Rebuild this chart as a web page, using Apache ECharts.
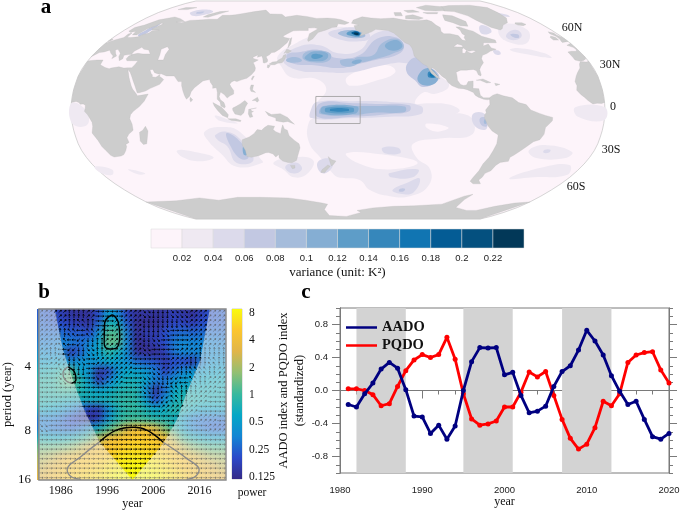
<!DOCTYPE html>
<html><head><meta charset="utf-8">
<style>
html,body{margin:0;padding:0;background:#fff;width:685px;height:516px;overflow:hidden}
#heatClip{position:absolute;left:37px;top:309px;width:189px;height:171px;overflow:hidden}
#heat{position:absolute;left:-9.45px;top:-9.5px;width:207.9px;height:190px;filter:blur(3.5px)}
#main{position:absolute;left:0;top:0;width:685px;height:516px}
</style>
<script src="https://cdn.jsdelivr.net/npm/echarts@6/dist/echarts.min.js"></script>
</head><body>
<div id="heatClip"><div id="heat"></div></div>
<div id="main"></div>
<script>
// ---------- panel c ----------
const years = [1981,1982,1983,1984,1985,1986,1987,1988,1989,1990,1991,1992,1993,1994,1995,1996,1997,1998,1999,2000,2001,2002,2003,2004,2005,2006,2007,2008,2009,2010,2011,2012,2013,2014,2015,2016,2017,2018,2019,2020];
const aado = [-.17,-.2,-.04,.09,.26,.34,.27,.01,-.31,-.32,-.52,-.42,-.59,-.43,0,.35,.52,.515,.52,.19,.22,-.06,-.27,-.25,-.19,.05,.23,.3,.49,.73,.6,.43,.18,-.01,-.17,-.13,-.35,-.56,-.59,-.52];
const pqdo = [.02,.02,0,-.05,-.185,-.16,.05,.24,.37,.435,.4,.435,.645,.38,-.04,-.345,-.42,-.405,-.37,-.2,-.2,-.02,.225,.165,.23,-.06,-.35,-.58,-.71,-.65,-.45,-.13,-.185,-.04,.34,.43,.46,.47,.25,.09];
const bands = [[1982,1988],[1995,2001],[2007,2013]];
const indexTicks = [-.8,-.4,0,.4,.8];

// ---------- panel b ----------
const heatRows = [
[-2,-2.1,-2.5,-2.7,-2.8,-2.8,-2.2,-1,-1.5,-2.4,-2.8,-2.7,-2.8,-2.7,-2.5,-2.7,-2.8,-2.4,-2.1,-2],
[-1.9,-2,-2.2,-2.4,-2.6,-2.7,-1.9,-.4,-.6,-2,-2.9,-2.9,-2.9,-2.6,-2.3,-2.4,-2.5,-2.2,-2,-2],
[-1.8,-1.8,-1.8,-2,-2,-2.2,-1.3,.2,.2,-1.6,-2.9,-2.5,-2.6,-2.2,-1.9,-1.8,-1.9,-1.8,-1.8,-1.8],
[-1.6,-1.6,-1.5,-1.6,-1.8,-1.5,-.9,.4,.3,-1.5,-2.9,-2.8,-2.5,-2.2,-1.6,-1.4,-1.5,-1.5,-1.5,-1.6],
[-1.3,-1.4,-1.3,-2.6,-2,-1.2,-.9,-.2,-.6,-1.4,-2.8,-2.9,-2.9,-2.5,-1.7,-1.4,-1.5,-1.4,-1.4,-1.4],
[-1,-1,-.9,-1.5,-1.2,-1.2,-1.1,-.8,-1,-1.3,-1.8,-2,-2.1,-2.6,-2.2,-2.3,-2.6,-1.6,-1.2,-1.2],
[-.5,-.4,-.2,.3,-.9,-1.2,-2.7,-2.4,-1.2,-.8,-.9,-1.1,-1.6,-2.4,-1.8,-1.4,-1.2,-1,-.9,-.9],
[-.2,-.2,.1,.6,-.3,-1,-2.6,-1.6,-.8,-.5,-.5,-.9,-1.6,-1.7,-1.2,-1,-.9,-.7,-.6,-.6],
[-.2,-.2,0,0,-.3,-.6,-.9,-.7,-.4,-.3,-.3,-1.3,-2.8,-1.8,-.7,-.5,-.5,-.5,-.5,-.5],
[-.3,-.3,-.4,-.5,-.5,-.5,-.5,-.4,-.2,-.1,-.2,-1,-2.2,-1.3,-.5,-.3,-.3,-.4,-.5,-.5],
[-.6,-.8,-1,-1.4,-1.8,-2.4,-2.6,-1.4,-.4,-.1,-.1,-.4,-.8,-.6,-.2,-.3,-.6,-.8,-.8,-.8],
[-1.6,-1.6,-1.8,-2.2,-2.6,-2.9,-2.5,-1.2,-.3,0,0,-.1,-.3,-.4,-.5,-1,-1.6,-1.8,-1.8,-1.8],
[-1.6,-1.8,-1.9,-2,-1.8,-1.3,-.6,.1,.7,1.4,1.9,1.9,1.4,.6,-.2,-1,-1.6,-1.8,-2,-2],
[-.6,-.7,-.7,-.6,-.3,.2,1,1.7,2,2.2,2.3,2.3,2.1,1.9,1,0,-.5,-.8,-1,-1],
[.4,.4,.5,.7,1.1,1.5,1.9,2.2,2.3,2.4,2.5,2.4,2.4,2.2,1.8,1.2,.7,.4,.2,.2],
[1,1.2,1.5,1.8,2,2.1,2.2,2.3,2.6,2.7,2.7,2.7,2.6,2.4,2.2,2,1.7,1.3,1,.9],
[1.3,1.6,1.9,2.1,2.2,2.3,2.4,2.6,2.8,2.9,3,2.9,2.8,2.6,2.4,2.2,2,1.8,1.5,1.2],
[1.6,1.9,2.1,2.3,2.4,2.5,2.6,2.8,3,3,3,3,3,2.8,2.6,2.4,2.2,2,1.8,1.6]];
// arrow direction, 0=E 1=NE 2=N 3=NW 4=W 5=SW 6=S 7=SE
const phaseRows = [
"11122100011766771111","11123200111666671111","11234310111667001111","11345621111670001111",
"12456721111700011222","01567011110000112232","00766001110071123321","00700071100776543211",
"00000000000764322110","00000000000055321100","00000000000001111000","00000000000000000110",
"70000000000000000011","00000000000000000000","00000000000000000000","00000000000000000000",
"00000000000000000000","00000000000000000000"];
const coiLeft = [[1984.7,1.09],[1986.5,1.73],[1988.6,2.2],[1991.1,2.68],[1994.4,3.18],[2001.5,3.78]];
const coiRight = [[2018.2,1.09],[2016.1,1.9],[2013.2,2.41],[2011.1,2.83],[2008.2,3.2],[2001.5,3.78]];
const sigBlack = [
 [[1997.2,1.18],[1998.4,1.29],[1998.75,1.5],[1997.9,1.71],[1996.5,1.72],[1995.4,1.63],[1995.5,1.31],[1997.2,1.18]],
 [[1987.6,2],[1989.1,2.1],[1989.3,2.2],[1988.3,2.26]],
 [[1994.4,3.18],[1997.9,3],[2001.8,2.95],[2004.7,3],[2008.2,3.19]]];
const sigGray = [
 [[1987.6,2],[1986.5,2.1],[1986.9,2.2],[1988.3,2.26]],
 [[1994.4,3.18],[1990.4,3.41],[1987.4,3.62],[1988.3,3.73],[1990.4,3.77]],
 [[2008.2,3.19],[2013.2,3.44],[2015.9,3.62],[2015,3.73],[2013.2,3.77]]];
const bYearTicks = [1986,1996,2006,2016];
const bPeriodTicks = {2:'4',3:'8',3.78:'16'};
const powerTicks = [-3,-2,-1,0,1,2,3];
const powerLabels = ['0.125','0.25','0.5','1','2','4','8'];
const parula = ['#352a87','#2b48c9','#1485d4','#06a7c6','#38b99e','#92bf73','#e0b54a','#fcc62e','#f9fb0e'];

// ---------- panel a ----------
const varianceLevels = [0,.02,.04,.06,.08,.1,.12,.14,.16,.18,.2,.22,.24];
const variancePalette = ['#fdf4fa','#efe9f2','#dcdaeb','#c2c8e2','#a5bcdb','#85aed3','#5e9dc8','#3687bb','#1175b2','#045c95','#04507f','#023858'];
const latLabels = [['60N',572,28],['30N',610,65],['0',613,107],['30S',611,150],['60S',576,187]];
const robLen = [1,.9986,.9954,.99,.9822,.973,.96,.9427,.9216,.8962,.8679,.835,.7986,.7597,.7186,.6732,.6213,.5722,.5322];
const robDy = [0,.062,.124,.186,.248,.31,.372,.434,.4958,.5571,.6176,.6769,.7346,.7903,.8435,.8936,.9394,.9761,1];

// lon 0..360, lat. land outlines
const land = [
// Africa + Eurasia (east of the map's cut meridian)
[[0,5.6],[3,6.3],[5,5.5],[6,4.3],[8,4.5],[9.5,3.5],[9.5,1],[9,-1],[11,-3.5],[12,-5.5],[13.5,-9],[13.5,-12],[12,-17],[14.5,-22.5],[15.5,-27],[17,-30],[18.3,-33.5],[20,-34.8],[25.5,-34],[28,-33],[31,-30],[32.8,-27],[32.8,-25.5],[35.5,-24],[35,-20.5],[37,-17.8],[40.5,-15],[40.5,-10.5],[39.3,-6.5],[40,-3.5],[42,-1],[46,2.5],[49,6.5],[51.2,11.8],[48,11.2],[44,10.5],[43.2,11.8],[40,15.5],[38.5,18],[37,21],[35.5,24],[33.8,27.5],[32.5,29.9],[34.8,28],[37,25],[39,21.5],[41,18],[43,14],[43.5,12.8],[45,12.8],[49,14],[52,16],[55,17.5],[57.8,19],[59.8,22.5],[58,23.8],[56.3,25],[56.3,26.3],[54,24.2],[51.5,24.5],[51,26],[50,26.8],[48,29.8],[50,30],[52,27.6],[55,26.6],[57,26.8],[61,25.2],[66.5,25.2],[67.5,24],[70,21],[72.5,21],[73,18],[74.5,14],[76,10.5],[77.5,8],[79.5,10.2],[80.2,13.5],[82,16.5],[85,19.5],[87,21.5],[89,22],[91.5,22.5],[92.3,20.5],[94.3,18],[94.5,16],[97,16.5],[98,13],[98.3,8],[100.3,6],[101,3],[103.5,1.4],[104,2.5],[103,5.5],[100.5,7.5],[99.5,10],[100.2,13.3],[101,12.7],[102.8,11.5],[105,8.8],[106.8,10.5],[109.2,11.8],[109,14.5],[107,17],[105.8,19],[106.8,20.8],[108.5,21.7],[110.5,21],[113.5,22.3],[117,23.5],[119.8,26],[121.8,29],[121.8,31],[120.5,33.5],[119.3,35],[122.5,37],[119,38],[118,39],[121.3,40.8],[121.3,39],[124.3,40],[125.5,38],[126.5,35],[127.5,34.7],[129.3,35.5],[129.3,37],[127.5,39.5],[129.8,41],[130.8,42.5],[133,42.8],[136,45],[140.5,50],[141.5,53.3],[137.5,54],[135.5,55],[138.5,57],[142.5,59.3],[148,59.5],[155,59.5],[154.5,61.5],[160,61.7],[163,61],[156.5,57],[156,52],[156.7,51],[160,53],[162,56],[163.5,58],[170,60],[175,62],[179,62.5],[180,65],[186,64.5],[190,66],[183,68.5],[178,69.5],[170,70],[160,69.7],[150,71.5],[140,72.5],[130,71],[125,73.5],[113,73.8],[105,77.5],[95,76],[85,74],[80,73],[75,72.5],[68,72.5],[68,69],[60,69],[55,68.5],[44,68],[40,66],[34,66.5],[41,67],[33,69.5],[25,71],[15,68.5],[10,64],[5,62],[5,59],[8,58],[11,59],[12.5,56],[16,56],[17,58.5],[17.5,61],[21,63],[22.5,65.5],[25,65],[21.5,61],[23,60],[29,60],[24,59.3],[24,57.5],[21,56.5],[19,54.5],[14,54],[11,54],[10,57.5],[8,56.8],[8.5,54],[4.5,52.5],[1.5,50.8],[0,49.5],[0,45],[0,39.5],[3,42.5],[6,43],[9,44.3],[12,42],[15.5,40],[16,38],[18,40],[15.5,42],[13,44.5],[14.5,45],[19,42],[20,39.5],[22.5,36.5],[24,38],[23,40.5],[26,41],[29,41],[27,40],[26.5,38],[28,36.5],[31,36.5],[36,36.5],[35.5,33.5],[34.5,31.3],[32,31.2],[29,31],[25,32],[20,31],[19,30.5],[15.5,31.5],[11,33.5],[10.5,37],[6,37],[1,36.5],[0,36],[0,25],[0,15]],
// West Africa, Iberia and France, British Isles, Iceland (west of the cut)
[[360,5.6],[358,4.8],[355,5],[352,4.5],[349,7],[346.8,9.5],[344.7,11.5],[342.5,14.7],[343.5,18],[343,21],[345,25],[347,27.5],[350.5,31],[352,34],[354,35.8],[358,35.5],[360,36],[360,25],[360,15]],
[[360,39.5],[359.7,38],[357,36.7],[354,36],[351,37],[351,39],[351,43],[354,43.5],[358,43.5],[359,45],[358.5,46.5],[355.5,48],[358.5,49],[360,49.5]],
[[354.5,50.2],[359,50.8],[360,51],[360,53],[359.7,54],[358,55.8],[358,57.5],[355,58.5],[354,57],[356,55],[356,53.2],[355.5,52],[355,51.5]],
[[0,51],[1.5,51.3],[1.7,52.7],[0,53]],
[[350,52],[354,52],[354.5,54],[352,55.2],[350,54]],
[[338,64],[342,63.5],[346,64.5],[345,66],[339,66],[337,65]],
// Greenland
[[317,60],[320,61],[325,64],[332,66],[338,70],[340,75],[342,80],[330,83],[305,82.5],[293,81],[290,79],[289,76.5],[298,76],[305,72],[307,68],[309,65],[312,62]],
// North America
[[192,65.5],[194,68.3],[203,71.2],[211,70],[220,69.5],[232,70],[240,68.5],[245,68],[250,68],[255,68],[262,68.5],[265,67],[266,64],[268,62],[266,58.7],[267,57],[272,57],[277.5,55.5],[278,52],[280.5,51.5],[281,54],[283,55.5],[282,57],[283,60],[282,62.5],[285,62.5],[290,60],[293,59],[296,55],[304,52],[303,50],[295,50],[293,50],[291,47.5],[296,49],[296,46],[299,45],[293.5,43.5],[290,41.8],[286,40.5],[284,38],[284,35],[281,32],[279.5,30],[279.5,26],[279,25.2],[277.5,26],[277,29],[275,30],[270,29.5],[266,29.5],[262.5,28],[262.5,25],[262.3,22],[264,18.8],[266,18.2],[268,18.5],[269.5,21],[273,21.5],[272.5,18],[272,16],[276,15.8],[276.5,11],[278.5,9],[280.5,9],[282.5,9],[283,8],[281,7.5],[278.5,8],[275,9.5],[273,11],[272,13],[268,15],[265.5,15.8],[262,16],[258,18],[255.5,20.5],[254.5,23],[252,25],[250,27.5],[247.5,30.5],[246,31.5],[245.5,30],[249,25.5],[250.5,23],[248,24],[245,27],[244,30],[243,32.5],[240.5,34],[238,37],[235.7,40],[236,43],[236,46],[235,48.5],[232,50],[229,54],[226,57.5],[222,59.5],[217,60],[212,60.5],[208,58.5],[202,56.5],[197.5,55],[200,58],[198,59],[195,60],[194,63.5],[198,64]],
// Arctic Canada
[[282,73],[290,72],[296,67],[293,63],[287,63.5],[283,66],[278,68],[280,71]],
[[243,69.5],[255,68.8],[260,70],[253,73],[245,72]],
[[280,76.5],[290,77],[295,81],[280,83],[265,80],[270,77]],
[[235,72],[242,72],[243,75],[236,75]],
[[265,75],[280,75],[278,74],[268,74]],
[[250,75],[262,75.5],[258,77.5],[248,77]],
// South America
[[282.5,9],[285,11],[288,12],[292,10.5],[298,9],[302,5.5],[307,4],[310,0],[316,-2.5],[320,-4],[325,-5.5],[325,-8],[321,-13],[321,-18],[319,-22],[315,-23.5],[311.5,-27],[308.5,-30],[305,-33.5],[303,-35],[303.5,-38],[298,-38.8],[296,-41],[295,-45],[292,-47],[292,-50],[291,-52],[295,-55],[289,-55],[285,-53],[285,-50],[286,-45],[286,-40],[288,-35],[289,-30],[290,-25],[289.7,-18.5],[285,-15.5],[282,-12],[279,-6],[279,-3.5],[280,-2],[279.5,0],[281,2],[282.5,4],[282.5,7]],
// Australia and Pacific islands
[[114,-22],[113.5,-26],[115,-30],[115,-34.3],[118,-35],[123.5,-33.8],[129,-31.6],[131,-31.5],[134,-32.5],[135.5,-34.8],[138,-33],[137.8,-35.5],[140,-37.8],[143.5,-38.8],[146.5,-39],[150,-37.3],[151.5,-33.5],[153.5,-28],[153,-25],[150,-22.5],[146.5,-19],[145.5,-15],[143.5,-14],[142.5,-11],[141.5,-14],[140.8,-17.5],[137.5,-16],[135.8,-14.5],[137,-12],[132.5,-11.3],[130,-13],[128,-15],[125,-14.5],[122.5,-17.5],[119,-20]],
[[145,-41],[148.3,-41],[148,-43],[146,-43.5]],
[[173,-34.5],[175.5,-36.8],[178.5,-37.8],[176.5,-40.5],[175,-41.5],[174.5,-39.5]],
[[172.5,-40.7],[174.3,-41.7],[171,-45],[170,-46.3],[167,-46.3],[168,-44.3]],
[[131,-1],[135,-3.3],[141,-2.7],[146,-5.5],[148,-8],[150.5,-10.5],[146,-8.5],[143,-9],[138,-8],[138,-6],[133,-4]],
[[109,1.5],[111,2.5],[114,4.5],[117,7],[119,5],[117.5,2],[116.5,-2],[114.5,-4],[110.5,-3],[109,0]],
[[95.5,5.5],[98,4],[101.5,2],[104.5,-1.5],[106,-3.5],[105.5,-5.8],[102,-4],[99,-.5],[96.5,3]],
[[105.5,-6.5],[108.5,-6.5],[111,-6.5],[114.5,-7.8],[114,-8.6],[108,-7.8]],
[[119.8,.5],[125,1.5],[121,.5],[122,-1],[123,-1],[121.5,-2],[122.5,-5],[120.5,-5.5],[119.5,-3]],
[[120.5,18.5],[122.2,18.5],[121.8,15],[124,13],[120.8,13.8],[120,16]],
[[122,7],[125.5,9.5],[126.5,7],[125.5,5.8],[124,7]],
[[121,25],[122,25],[120.8,22],[120.2,23]],
[[130.9,34],[133,35.5],[136,35.8],[137,37],[139.5,38.5],[140,40.5],[141.5,41],[142,39],[140.8,36],[140,35],[137,34.5],[135,33.5],[132,33.5]],
[[130,33.5],[132,33],[131,31],[130,31.5]],
[[140,41.8],[141.5,45.3],[145.2,43.8],[143,42],[141,42.5]],
[[142,46],[143.5,49],[143,54],[142,53],[142,49.5]],
[[49.3,-12],[50.5,-15.5],[47.5,-25],[45,-25.5],[43.5,-23],[44.5,-16.5],[47,-15]],
[[80,9.5],[81.8,7.5],[80.5,6],[79.8,7.5]],
[[275.2,22],[280,23],[285,20.3],[282,20],[278,22]],
[[287.5,19.8],[291,19],[288,18]],
[[52,71],[57,70.7],[68,76.5],[60,76],[53,73]],
[[12,78],[22,78],[27,80],[15,80]],
// Antarctica
[[0,-70],[30,-69],[55,-66.5],[70,-68.5],[90,-66],[110,-66],[135,-66.5],[150,-68.5],[165,-71],[170,-72],[166,-77],[170,-84],[190,-85],[205,-80],[200,-78],[215,-75.5],[235,-74],[255,-73.5],[280,-72],[292,-65],[298,-63.5],[296,-68],[298,-75],[315,-78],[325,-78],[335,-74],[348,-71],[360,-70],[360,-90],[0,-90]]
];
const inlandWater = [
[[28,41],[32,42],[36,41.5],[41.5,41.5],[38,44.5],[34,45],[31,46.5],[28,43.5]],
[[50,37],[54,37],[53,41],[53,45],[50,47],[47,45],[49,41]],
[[272,42],[273.5,45],[275,46],[276,44.5],[277.5,43.5],[281,44],[283,43.5],[279,42],[277,42.5],[276,44],[274,42],[272.5,42]],
[[268,47],[272,49],[275,48],[275,46.7],[271,46.8]]
];
// variance contours, [palette index, outline in lon/lat]; later ones lie over earlier ones
const varianceBlobs = [
[1,[[140,32],[136,40],[148,50],[160,56],[175,62],[195,62],[210,62],[225,60],[236,50],[243,36],[250,26],[256,18],[246,12],[238,13],[232,5],[240,5],[255,4],[262,-1],[250,-5],[235,-6.5],[215,-6],[190,-7],[168,-6],[164,2],[172,15],[165,23],[148,24]]],
[1,[[165,-6],[200,-6],[240,-5],[268,-4],[272,-18],[250,-21],[232,-25],[236,-35],[249,-44],[254,-57],[244,-65],[226,-65],[207,-60],[197,-52],[180,-50],[176,-47],[168,-36],[160,-24],[160,-10]]],
[0,[[186,24],[202,31],[216,33],[220,28],[207,22],[188,18]]],
[0,[[186,-32],[212,-33],[238,-39],[217,-44],[194,-39]]],
[0,[[240,-10],[255,-13],[248,-16],[240,-13]]],
[1,[[89,-16],[100,-12.5],[113,-16],[124,-35.5],[125,-39],[105,-42],[97,-32],[90,-22]]],
[1,[[133,-39],[148,-35],[162,-37],[157,-47],[146,-50],[139,-44]]],
[1,[[67,-30],[79,-31],[91,-35],[80,-38],[69,-35]]],
[1,[[0,-42],[11,-44],[7,-48],[0,-47]]],
[1,[[23,-44],[33,-47],[28,-48]]],
[1,[[0,5],[10,0],[10,-11],[0,-10]]],
[1,[[340,2],[360,2],[360,-7.5],[342,-5]]],
[1,[[314,-30],[325,-26],[345,-31],[343,-35.5],[322,-35.5]]],
[1,[[314,-51],[330,-43],[350,-40.7],[356,-48],[332,-50]]],
[1,[[309,44.5],[316,46],[333,42],[335,38.5],[320,41]]],
[1,[[326,65],[340,60],[327,50],[314,50],[312,57]]],
[1,[[97,-4],[108,-8],[112,-10],[100,-8]]],
[2,[[140,38],[150,47],[166,48],[180,42],[196,44],[210,57],[230,58],[237,48],[240,40],[233,35],[222,35],[207,32],[190,28],[170,28],[150,30]]],
[2,[[172,57],[180,60.5],[195,62],[205,58],[205,53],[195,51],[183,52]]],
[2,[[162,-6],[190,-6],[215,-5],[236,-3],[236,3],[215,6],[190,6.5],[166,6],[162,1]]],
[2,[[96,-18.5],[104,-16],[113,-22],[119,-37],[106,-39],[103,-27],[97,-22]]],
[2,[[141,-42],[150,-39],[153,-44],[145,-47]]],
[2,[[165,-39],[174,-36],[176,-42],[168,-47]]],
[2,[[271,-3],[279,-3],[281,-14],[273,-12]]],
[2,[[219,-47],[240,-44],[238,-50],[221,-50]]],
[2,[[226,-60],[236,-54],[244,-51],[245,-62],[234,-63]]],
[2,[[211,-28],[222,-28],[224,-32],[213,-32]]],
[2,[[325,-29.5],[329,-29.5],[329,-31.5],[325,-31.5]]],
[2,[[321,58],[331,60],[329,55.5],[320,52],[315,54]]],
[2,[[304,63.5],[310,62],[307,58],[298,57]]],
[2,[[296,44],[300,44],[300,41.5],[296,41]]],
[2,[[335,75],[345,73],[343,71],[335,73]]],
[2,[[32,75],[40,78],[53,76],[50,73],[40,72]]],
[3,[[142.5,41],[152,43],[166,44.5],[179,38.5],[196,40.7],[211,53],[227,54],[230,46.6],[223,40.7],[207,37],[190.5,33],[181,31],[165,33],[146,35]]],
[3,[[166,-5],[190,-5],[215,-3],[228,-1],[228,3.5],[205,4.5],[190,5],[168,5]]],
[3,[[230,35],[238,39],[245,32],[250,26],[248,21],[238,17],[233,22],[228,28]]],
[3,[[104,-17],[113,-24],[116,-35],[110,-36],[105,-26]]],
[3,[[276,-6],[280,-6],[281,-12],[277,-11]]],
[3,[[232,-59],[236,-59],[236,-61],[232,-61]]],
[3,[[321,56.5],[327,56.5],[325,54],[321,54]]],
[3,[[38,75.5],[44,76],[45,74.5],[40,74]]],
[3,[[17,56],[20,55],[23,60],[22,65.5],[19,63],[18,60]]],
[4,[[214,49.5],[227,53],[230,46.6],[221,42],[210,38.5],[193,35],[192.5,38.5],[206,40.7]]],
[4,[[143,38],[150,39],[154,36.5],[148,35],[143,36]]],
[4,[[155,42],[163,44],[174,42],[174,37],[165,35],[155,37.5]]],
[4,[[182,37],[195,37],[192,33],[183,33]]],
[4,[[168,-3],[192,-3.5],[204,-2],[225,-1.5],[225,2.5],[204,3],[192,3],[170,3]]],
[4,[[180,57.5],[190,60],[200,58],[202,55],[195,53.5],[186,54.5]]],
[4,[[279,-7],[280.5,-7],[280.5,-10],[279,-10]]],
[5,[[158,41.5],[163,43.5],[172,42],[172,38],[165,36],[156,38]]],
[5,[[191,36.5],[197,37],[195,34.5],[190,34.5]]],
[5,[[216,48],[226,52],[229,47],[220,44]]],
[5,[[235,24],[243,31],[249,26],[247,20],[238,18.5]]],
[5,[[169,-2.5],[192,-2.5],[193,2.5],[170,2.5]]],
[5,[[114,-27],[115.5,-33],[113,-33]]],
[6,[[161,41],[165,41.5],[169,40],[165,38],[161,38.5]]],
[6,[[187,57],[193,59.5],[199,57.5],[198,55],[192,55]]],
[6,[[172,-1.7],[190,-1.7],[190,1.7],[172,1.7]]],
[7,[[243,28],[246,28],[249,25],[243,24]]],
[7,[[175,-.8],[187,-.8],[187,1],[175,1]]],
[8,[[244,27],[246,27],[247,25],[244,25]]],
[9,[[191,57.5],[195,59],[198,57],[196,55.5]]],
[11,[[193,57.3],[195,58],[197,56.8],[195,56]]]
];
const nino4Box = [[165,10],[180,10],[195,10],[195,0],[195,-10],[180,-10],[165,-10],[165,0],[165,10]];

const serif = '"Liberation Serif","Times New Roman",serif';
const sans = '"Liberation Sans",Arial,sans-serif';
const axisGray = '#7a7a7a';

function tableLookup(tab, a){
  const i = Math.min(Math.floor(a/5), tab.length-2);
  return tab[i] + (tab[i+1]-tab[i])*(a/5-i);
}
function robinson(p){
  const a = Math.abs(p[1]);
  return [(p[0]-180)/180*tableLookup(robLen,a), Math.sign(p[1])*tableLookup(robDy,a)];
}
// ordered map layers
const ocean = [];
for (let la=-90; la<=90; la+=5) ocean.push([360,la]);
for (let la=90; la>=-90; la-=5) ocean.push([0,la]);
const layers = [];
layers.push({ring:ocean,fill:variancePalette[0],stroke:'#c4c4c4',lw:.7});
varianceBlobs.forEach(b=>layers.push({ring:b[1],fill:variancePalette[b[0]],smooth:.45}));
land.forEach(r=>layers.push({ring:r,fill:'#cdcdcd',stroke:'#b8b8b8',lw:.25}));
inlandWater.forEach(r=>layers.push({ring:r,fill:variancePalette[0],stroke:'#b8b8b8',lw:.25}));
layers.push({ring:nino4Box,stroke:'#9a9a9a',lw:.8,line:true});

// arrow lattice: two arrows per phase cell each way
const xMinB=1981.3, xMaxB=2021.7, yMinB=1.09, yMaxB=3.78;
function edgeYear(edge,p){
  for(let i=0;i<edge.length-1;i++){
    if(p<=edge[i+1][1]) return edge[i][0]+(edge[i+1][0]-edge[i][0])*(p-edge[i][1])/(edge[i+1][1]-edge[i][1]);
  }
  return edge[edge.length-1][0];
}
const arrows=[];
for (let r=0;r<phaseRows.length*2;r++) for (let c=0;c<phaseRows[0].length*2;c++){
  const yr=xMinB+(c+.5)/40*(xMaxB-xMinB), p=yMinB+(r+.5)/36*(yMaxB-yMinB);
  const inside = yr>edgeYear(coiLeft,p) && yr<edgeYear(coiRight,p);
  arrows.push([yr,p,+phaseRows[r>>1][c>>1],inside?1:0]);
}
// heat chart
const heatData=[];
const nR=heatRows.length,nC=heatRows[0].length;
for(let r=-1;r<=nR;r++)for(let c=-1;c<=nC;c++){
  const rr=Math.max(0,Math.min(nR-1,r)),cc=Math.max(0,Math.min(nC-1,c));
  heatData.push([c+1,r+1,heatRows[rr][cc]]);
}
const idx=n=>Array.from({length:n},(_,i)=>i);
echarts.init(document.getElementById('heat'),null,{renderer:'canvas'}).setOption({
  animation:false,
  grid:{left:0,right:0,top:0,bottom:0},
  xAxis:{type:'category',data:idx(nC+2),show:false},
  yAxis:{type:'category',data:idx(nR+2),show:false,inverse:true},
  visualMap:{show:false,min:-3,max:3,inRange:{color:parula},calculable:false,dimension:2},
  series:[{type:'heatmap',data:heatData,progressive:0}]
});

function polyItem(pts,style,smooth){return {type:'polygon',shape:{points:pts,smooth:smooth||0},style:style,silent:true};}
const hiddenAxis=(g,extra)=>Object.assign({gridIndex:g,show:false,type:'value'},extra);
const bandData = bands.map(b=>[{xAxis:b[0]},{xAxis:b[1]}]);
const contour=(pts,color,w,smooth)=>({type:'line',xAxisIndex:2,yAxisIndex:2,data:pts,smooth:smooth,showSymbol:false,symbol:'none',
  lineStyle:{color,width:w},z:8,silent:true});
const indexAxisMinor=(pos)=>({gridIndex:4,type:'value',position:pos,min:-1,max:1,interval:.1,axisLine:{lineStyle:{color:axisGray}},
  axisTick:{length:4,lineStyle:{color:axisGray}},splitLine:{show:false},axisLabel:{show:false}});
const indexAxisMajor=(pos,labels,extra)=>Object.assign({gridIndex:4,type:'value',position:pos,min:-1,max:1,axisLine:{lineStyle:{color:axisGray}},
  axisTick:{length:8,customValues:indexTicks,lineStyle:{color:axisGray}},splitLine:{show:false},
  axisLabel:{show:labels,customValues:indexTicks,margin:12,fontSize:9.5,color:'#222',fontFamily:sans,formatter:v=>(+v).toFixed(1)}},extra||{});

const option={
  animation:false,
  textStyle:{fontFamily:sans},
  grid:[
    {left:71,top:1,width:534,height:218},
    {left:151,top:229,width:373,height:19},
    {left:37,top:309,width:189,height:171,show:true,borderColor:'#888',borderWidth:1.4,backgroundColor:'transparent',z:9},
    {left:232,top:309,width:10,height:170,show:true,borderColor:'#aaa',borderWidth:.6,backgroundColor:'transparent'},
    {left:340,top:308,width:329,height:165,show:true,borderColor:axisGray,borderWidth:1}
  ],
  xAxis:[
    hiddenAxis(0,{min:-1,max:1}),
    {gridIndex:1,type:'value',min:0,max:.24,interval:.02,axisLine:{show:false},axisTick:{show:false},splitLine:{show:false},
      axisLabel:{margin:5,fontSize:9.5,color:'#222',fontFamily:sans,formatter:v=>(v>.001&&v<.235)?String(+v.toFixed(2)):''},
      name:'variance (unit: K²)',nameLocation:'middle',nameGap:18,nameTextStyle:{fontFamily:serif,fontSize:13,color:'#111'}},
    {gridIndex:2,type:'value',min:xMinB,max:xMaxB,axisLine:{show:false},axisTick:{show:false},splitLine:{show:false},
      axisLabel:{customValues:bYearTicks,margin:5,fontSize:12,color:'#111',fontFamily:serif,formatter:v=>String(v)},
      name:'year',nameLocation:'middle',nameGap:17,nameTextStyle:{fontFamily:serif,fontSize:12,color:'#111'}},
    hiddenAxis(3,{min:0,max:1}),
    {gridIndex:4,type:'value',min:1980,max:2020,interval:10,axisLine:{lineStyle:{color:axisGray}},
      axisTick:{length:8,lineStyle:{color:axisGray}},minorTick:{show:true,splitNumber:5,length:4,lineStyle:{color:axisGray}},splitLine:{show:false},
      axisLabel:{margin:12,fontSize:9.5,color:'#222',fontFamily:sans,formatter:v=>String(v)},
      name:'year',nameLocation:'middle',nameGap:22,nameTextStyle:{fontFamily:serif,fontSize:12,color:'#111'}},
    hiddenAxis(2,{min:xMinB,max:xMaxB}),
    hiddenAxis(1,{min:0,max:.24})
  ],
  yAxis:[
    hiddenAxis(0,{min:-1,max:1}),
    hiddenAxis(1,{min:0,max:1}),
    {gridIndex:2,type:'value',inverse:true,min:yMinB,max:yMaxB,axisLine:{show:false},axisTick:{show:false},splitLine:{show:false},
      axisLabel:{customValues:[2,3,3.78],margin:8,fontSize:13,color:'#111',fontFamily:serif,formatter:v=>bPeriodTicks[v]||''},
      name:'period (year)',nameLocation:'middle',nameGap:22,nameRotate:90,nameTextStyle:{fontFamily:serif,fontSize:12.5,color:'#111'}},
    {gridIndex:3,type:'value',position:'right',min:-3.07,max:3.15,axisLine:{show:false},axisTick:{show:false},splitLine:{show:false},
      axisLabel:{customValues:powerTicks,margin:7,fontSize:11.5,color:'#111',fontFamily:serif,formatter:v=>powerLabels[powerTicks.indexOf(v)]}},
    indexAxisMajor('left',true,{name:'AADO index and PQDO index\n(standardized)',nameLocation:'middle',nameGap:28,nameRotate:90,
      nameTextStyle:{fontFamily:serif,fontSize:12.5,lineHeight:16,color:'#111'}}),
    indexAxisMajor('right',false),
    indexAxisMinor('left'),
    indexAxisMinor('right')
  ],
  legend:{data:['AADO','PQDO'],orient:'vertical',left:346,top:320,padding:0,itemWidth:31,itemHeight:2.5,itemGap:3,icon:'rect',
    textStyle:{fontFamily:serif,fontWeight:'bold',fontSize:14.5,lineHeight:12,color:'#111'}},
  series:[
    {type:'custom',xAxisIndex:0,yAxisIndex:0,silent:true,clip:false,progressive:0,data:layers.map((_,i)=>[i]),
     renderItem(p,api){
       const L=layers[p.dataIndex];
       const pts=L.ring.map(q=>api.coord(robinson(q)));
       if(L.line) return {type:'polyline',shape:{points:pts},style:{fill:null,stroke:L.stroke,lineWidth:L.lw}};
       return polyItem(pts,{fill:L.fill,stroke:L.stroke||null,lineWidth:L.lw||0},L.smooth);
     }},
    {type:'custom',xAxisIndex:6,yAxisIndex:1,silent:true,data:variancePalette.map((c,i)=>[varianceLevels[i],varianceLevels[i+1]]),
     renderItem(p,api){
       const a=api.coord([api.value(0),0]),b=api.coord([api.value(1),1]);
       return {type:'rect',shape:{x:a[0],y:b[1],width:b[0]-a[0],height:a[1]-b[1]},
         style:{fill:variancePalette[p.dataIndex],stroke:'#d8d8d8',lineWidth:.5}};
     }},
    {type:'custom',xAxisIndex:5,yAxisIndex:2,silent:true,clip:true,z:3,data:[[0],[1]],
     renderItem(p,api){
       const i=p.dataIndex;
       const edge=(i===0?coiLeft:coiRight);
       const xEnd=i===0?xMinB:xMaxB;
       const pts=[[xEnd,yMinB]].concat(edge).concat([[xEnd,yMaxB]]).map(q=>api.coord(q));
       return polyItem(pts,{fill:'rgba(250,248,246,0.5)'});
     }},
    {type:'custom',xAxisIndex:2,yAxisIndex:2,silent:true,progressive:0,clip:true,z:4,data:arrows,
     renderItem(p,api){
       const c=api.coord([api.value(0),api.value(1)]),ang=api.value(2)*Math.PI/4,dx=Math.cos(ang),dy=-Math.sin(ang),L=1.9,H=1.2;
       const tail=[c[0]-dx*L,c[1]-dy*L],tip=[c[0]+dx*L,c[1]+dy*L];
       const h1=[tip[0]-dx*H-dy*H*.7,tip[1]-dy*H+dx*H*.7],h2=[tip[0]-dx*H+dy*H*.7,tip[1]-dy*H-dx*H*.7];
       const inside=api.value(3)===1;
       return {type:'polyline',shape:{points:[tail,tip,h1,tip,h2]},style:{fill:null,stroke:inside?'rgba(0,0,0,.85)':'rgba(85,85,85,.55)',lineWidth:inside?.85:.75}};
     }},
    contour(sigBlack[0],'#000',1.4,.5),contour(sigBlack[1],'#000',1.4,.5),contour(sigBlack[2],'#000',1.4,.4),
    contour(sigGray[0],'#8a8a8a',1.3,.5),contour(sigGray[1],'#8a8a8a',1.3,.4),contour(sigGray[2],'#8a8a8a',1.3,.4),
    {type:'custom',xAxisIndex:3,yAxisIndex:3,silent:true,data:[[0]],
     renderItem(p,api){
       const a=api.coord([0,-3.07]),b=api.coord([1,3.15]);
       return {type:'rect',shape:{x:a[0],y:b[1],width:b[0]-a[0],height:a[1]-b[1]},
         style:{fill:new echarts.graphic.LinearGradient(0,1,0,0,parula.map((c,i)=>({offset:i/(parula.length-1),color:c})))}};
     }},
    {type:'line',xAxisIndex:4,yAxisIndex:4,data:[],silent:true,markArea:{silent:true,itemStyle:{color:'#d3d3d3'},data:bandData},z:1},
    {name:'PQDO',type:'line',xAxisIndex:4,yAxisIndex:4,data:years.map((y,i)=>[y,pqdo[i]]),symbol:'circle',symbolSize:5,
      lineStyle:{color:'#ff0000',width:2.8},itemStyle:{color:'#ff0000'},z:5},
    {name:'AADO',type:'line',xAxisIndex:4,yAxisIndex:4,data:years.map((y,i)=>[y,aado[i]]),symbol:'circle',symbolSize:5,
      lineStyle:{color:'#000080',width:2.8},itemStyle:{color:'#000080'},z:6}
  ],
  graphic:{elements:[
    ...latLabels.map(l=>({type:'text',x:l[1],y:l[2],style:{text:l[0],fontFamily:serif,fontSize:12,fill:'#111',textAlign:'center',textVerticalAlign:'middle'}})),
    {type:'text',x:252,y:493,style:{text:'power',fontFamily:serif,fontSize:11.5,fill:'#111',textAlign:'center',textVerticalAlign:'middle'}},
    {type:'text',x:46,y:8,style:{text:'a',fontFamily:serif,fontWeight:'bold',fontSize:21,fill:'#000',textAlign:'center',textVerticalAlign:'middle'}},
    {type:'text',x:44,y:293,style:{text:'b',fontFamily:serif,fontWeight:'bold',fontSize:21,fill:'#000',textAlign:'center',textVerticalAlign:'middle'}},
    {type:'text',x:306,y:293,style:{text:'c',fontFamily:serif,fontWeight:'bold',fontSize:21,fill:'#000',textAlign:'center',textVerticalAlign:'middle'}}
  ]}
};
echarts.init(document.getElementById('main')).setOption(option);
</script>
</body></html>
